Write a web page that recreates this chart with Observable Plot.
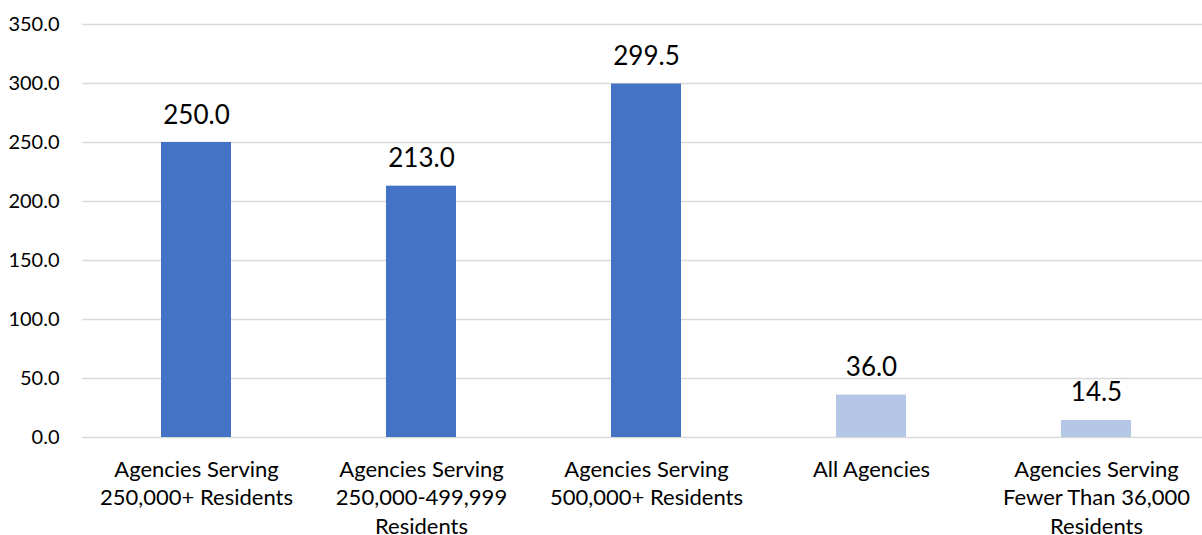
<!DOCTYPE html>
<html>
<head>
<meta charset="utf-8">
<script src="https://cdn.jsdelivr.net/npm/d3@7"></script>
<script src="https://cdn.jsdelivr.net/npm/@observablehq/plot@0.6"></script>
<style>
  html, body { margin: 0; padding: 0; background: #fff; }
  #chart svg { display: block; }
</style>
</head>
<body>
<div id="chart"></div>
<script>
// Agency groups, shown left to right
const categories = [
  "Agencies Serving\n250,000+ Residents",
  "Agencies Serving\n250,000-499,999\nResidents",
  "Agencies Serving\n500,000+ Residents",
  "All Agencies",
  "Agencies Serving\nFewer Than 36,000\nResidents"
];
const values = [250.0, 213.0, 299.5, 36.0, 14.5];
// Large-agency groups in the darker blue, comparison groups in the lighter one
const groups = ["large", "large", "large", "comparison", "comparison"];
const yTicks = [0, 50, 100, 150, 200, 250, 300, 350];

const rows = categories.map((c, i) => ({category: c, value: values[i], group: groups[i]}));

const font = "Lato, 'Open Sans', sans-serif";

const chart = Plot.plot({
  width: 1202,
  height: 535,
  marginLeft: 82,
  marginRight: 0,
  marginTop: 24,
  marginBottom: 98,
  style: {fontFamily: font, fontSize: "20px", color: "#000", background: "#fff"},
  // the last band runs slightly past the right edge of the page
  x: {domain: categories, range: [82, 1210], paddingInner: 0.69, paddingOuter: 0.345, label: null},
  y: {domain: [0, 350], label: null},
  color: {domain: ["large", "comparison"], range: ["#4472C4", "#B4C7E7"]},
  marks: [
    Plot.ruleY(yTicks, {stroke: "#d9d9d9", strokeWidth: 1.5}),
    Plot.barY(rows, {x: "category", y: "value", fill: "group"}),
    Plot.text(rows, {
      x: "category", y: "value",
      text: d => d.value.toFixed(1),
      lineAnchor: "bottom", dy: -19,
      fontSize: 26, fill: "#000"
    }),
    Plot.axisY(yTicks, {
      tickSize: 0, tickPadding: 23, tickFormat: d => d.toFixed(1),
      fontSize: 20, fill: "#000", label: null
    }),
    Plot.axisX({
      tickSize: 0, tickPadding: 19, lineHeight: 1.3,
      fontSize: 22, fill: "#000", label: null,
      textOverflow: null
    })
  ]
});

document.getElementById("chart").append(chart);
</script>
</body>
</html>
